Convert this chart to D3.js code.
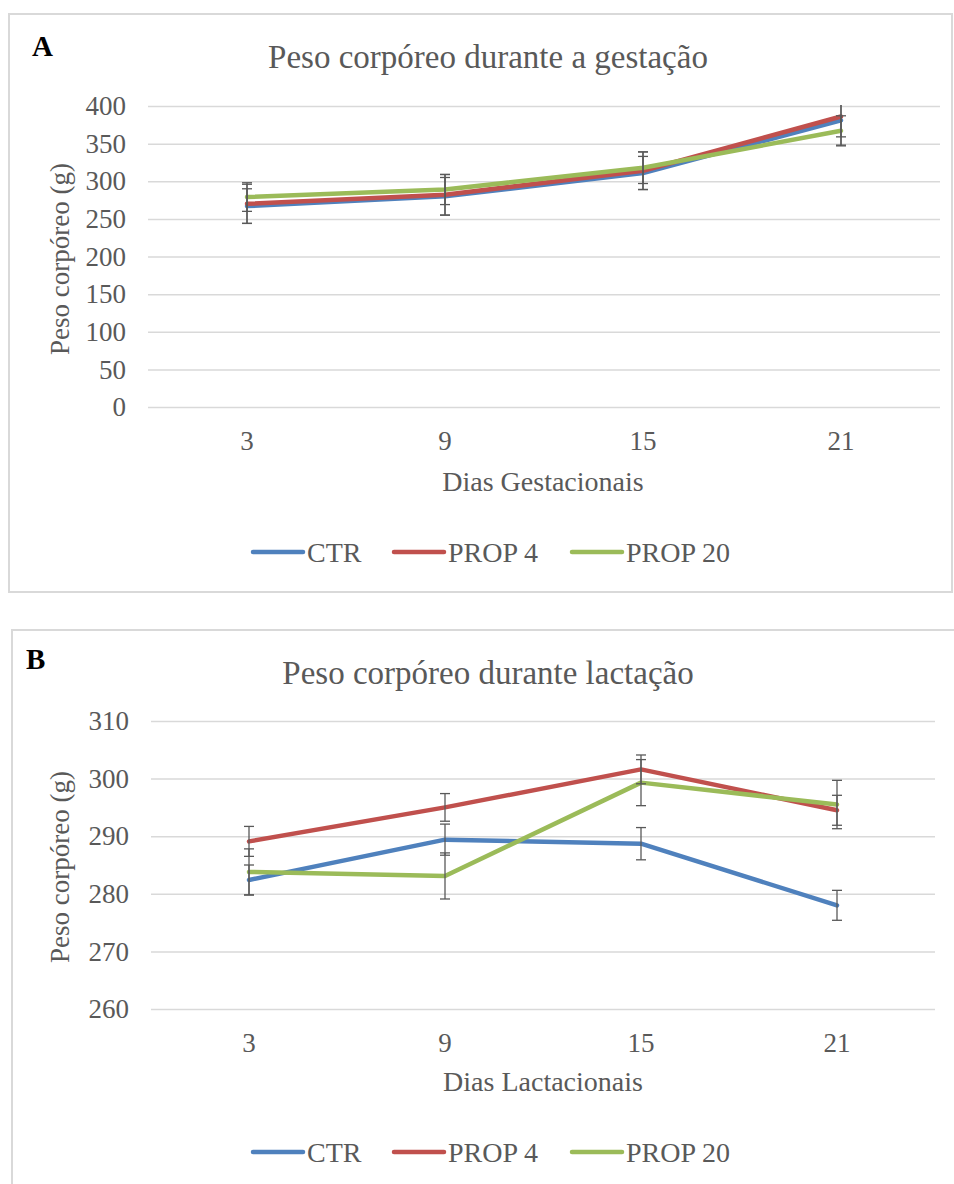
<!DOCTYPE html>
<html>
<head>
<meta charset="utf-8">
<script src="https://cdn.jsdelivr.net/npm/d3@7"></script>
<style>
  body { margin: 0; background: #fff; }
  svg { display: block; }
  text { font-family: "Liberation Serif", "Times New Roman", serif; }
</style>
</head>
<body>
<div id="chart"></div>
<script>
// Days (x categories), same for both panels
const days = ["3", "9", "15", "21"];
const seriesNames = ["CTR", "PROP 4", "PROP 20"];
const seriesColors = ["#4F81BD", "#C0504D", "#9BBB59"];

// Panel A - gestation (mean and error)
const gestCTR = [267, 280, 311, 381];
const gestCTRerr = [23, 25, 22, 22];
const gestP4 = [270, 282, 314, 386];
const gestP4err = [26, 27, 25, 38];
const gestP20 = [279, 289, 318, 367];
const gestP20err = [19, 20, 21, 20];
const gestTicks = [0, 50, 100, 150, 200, 250, 300, 350, 400];

// Panel B - lactation (mean and error)
const lactCTR = [282.4, 289.4, 288.7, 278.0];
const lactCTRerr = [2.6, 2.7, 2.8, 2.6];
const lactP4 = [289.1, 295.0, 301.6, 294.5];
const lactP4err = [2.6, 2.4, 2.5, 2.6];
const lactP20 = [283.8, 283.1, 299.3, 295.5];
const lactP20err = [4.0, 4.0, 4.0, 4.2];
const lactTicks = [260, 270, 280, 290, 300, 310];

const svg = d3.select("#chart").append("svg")
  .attr("width", 954)
  .attr("height", 1184);

const toSeries = (vals, errs) => vals.map((v, i) => ({ day: days[i], value: v, err: errs[i] }));

const drawPanel = (cfg) => {
  const g = svg.append("g");

  // frame
  g.append("rect")
    .attr("x", cfg.box[0]).attr("y", cfg.box[1])
    .attr("width", cfg.box[2]).attr("height", cfg.box[3])
    .attr("fill", "none")
    .attr("stroke", "#d9d9d9")
    .attr("stroke-width", 2);

  const x = d3.scaleBand().domain(days).range([cfg.left, cfg.right]);
  const y = d3.scaleLinear().domain(cfg.domain).range([cfg.bottom, cfg.top]);

  // gridlines
  g.append("g")
    .attr("transform", "translate(" + cfg.left + ",0)")
    .call(d3.axisLeft(y).tickValues(cfg.ticks).tickSize(-(cfg.right - cfg.left)).tickFormat(""))
    .call(s => s.select(".domain").remove())
    .selectAll("line")
    .attr("stroke", "#d9d9d9")
    .attr("stroke-width", 1.5);

  // y labels
  g.append("g")
    .attr("transform", "translate(" + cfg.left + ",0)")
    .call(d3.axisLeft(y).tickValues(cfg.ticks).tickSize(0).tickPadding(22))
    .call(s => s.select(".domain").remove())
    .selectAll("text")
    .style("font-family", "Liberation Serif")
    .style("font-size", "27px")
    .attr("fill", "#595959");

  // x labels
  g.append("g")
    .attr("transform", "translate(0," + cfg.bottom + ")")
    .call(d3.axisBottom(x).tickSize(0))
    .call(s => s.select(".domain").remove())
    .selectAll("text")
    .attr("dy", null)
    .attr("y", 43)
    .style("font-family", "Liberation Serif")
    .style("font-size", "27px")
    .attr("fill", "#595959");

  // clip to plot area
  const clipId = "clip-" + cfg.id;
  g.append("clipPath").attr("id", clipId)
    .append("rect")
    .attr("x", cfg.left).attr("y", cfg.top - 1)
    .attr("width", cfg.right - cfg.left).attr("height", cfg.bottom - cfg.top + 2);

  const plot = g.append("g").attr("clip-path", "url(#" + clipId + ")");
  const cx = d => x(d.day) + x.bandwidth() / 2;

  const line = d3.line()
    .x(cx)
    .y(d => y(d.value));

  cfg.series.forEach((s, i) => {
    plot.append("path")
      .datum(s)
      .attr("d", line)
      .attr("fill", "none")
      .attr("stroke", seriesColors[i])
      .attr("stroke-width", 4.5)
      .attr("stroke-linecap", "round")
      .attr("stroke-linejoin", "round");
  });

  // error bars
  cfg.series.forEach((s) => {
    const eb = plot.selectAll(null).data(s).enter().append("g")
      .attr("stroke", "#595959")
      .attr("stroke-width", 1.3);
    eb.append("line")
      .attr("x1", cx).attr("x2", cx)
      .attr("y1", d => y(d.value - d.err))
      .attr("y2", d => y(d.value + d.err));
    eb.append("line")
      .attr("x1", d => cx(d) - 5).attr("x2", d => cx(d) + 5)
      .attr("y1", d => y(d.value + d.err)).attr("y2", d => y(d.value + d.err));
    eb.append("line")
      .attr("x1", d => cx(d) - 5).attr("x2", d => cx(d) + 5)
      .attr("y1", d => y(d.value - d.err)).attr("y2", d => y(d.value - d.err));
  });

  // panel letter
  g.append("text")
    .attr("x", cfg.letterPos[0]).attr("y", cfg.letterPos[1])
    .style("font-size", "29px")
    .style("font-weight", "bold")
    .attr("fill", "#000")
    .text(cfg.letter);

  // title
  g.append("text")
    .attr("x", 488).attr("y", cfg.titleY)
    .attr("text-anchor", "middle")
    .style("font-size", "33px")
    .attr("fill", "#595959")
    .text(cfg.title);

  // x title
  g.append("text")
    .attr("x", 543).attr("y", cfg.xTitleY)
    .attr("text-anchor", "middle")
    .style("font-size", "28px")
    .attr("fill", "#595959")
    .text(cfg.xTitle);

  // y title
  g.append("text")
    .attr("transform", "translate(69," + cfg.yTitleY + ") rotate(-90)")
    .attr("text-anchor", "middle")
    .style("font-size", "27px")
    .attr("fill", "#595959")
    .text("Peso corpóreo (g)");

  // legend
  const legendX = [251, 392, 570];
  const leg = g.selectAll(null).data(seriesNames).enter().append("g")
    .attr("transform", (d, i) => "translate(" + legendX[i] + "," + cfg.legendY + ")");
  leg.append("line")
    .attr("x1", 2).attr("x2", 52)
    .attr("stroke", (d, i) => seriesColors[i])
    .attr("stroke-width", 4.5)
    .attr("stroke-linecap", "round");
  leg.append("text")
    .attr("x", 56).attr("y", 10)
    .style("font-size", "28px")
    .attr("fill", "#595959")
    .text(d => d);
};

drawPanel({
  id: "a",
  box: [9, 14, 943, 578],
  left: 148, right: 940, top: 106, bottom: 407,
  domain: [0, 400], ticks: gestTicks,
  series: [toSeries(gestCTR, gestCTRerr), toSeries(gestP4, gestP4err), toSeries(gestP20, gestP20err)],
  letter: "A", letterPos: [32, 56],
  title: "Peso corpóreo durante a gestação", titleY: 68,
  xTitle: "Dias Gestacionais", xTitleY: 491,
  yTitleY: 259,
  legendY: 552
});

drawPanel({
  id: "b",
  box: [12, 630, 960, 600],
  left: 151, right: 935, top: 721, bottom: 1009,
  domain: [260, 310], ticks: lactTicks,
  series: [toSeries(lactCTR, lactCTRerr), toSeries(lactP4, lactP4err), toSeries(lactP20, lactP20err)],
  letter: "B", letterPos: [26, 669],
  title: "Peso corpóreo durante lactação", titleY: 684,
  xTitle: "Dias Lactacionais", xTitleY: 1091,
  yTitleY: 867,
  legendY: 1152
});
</script>
</body>
</html>
